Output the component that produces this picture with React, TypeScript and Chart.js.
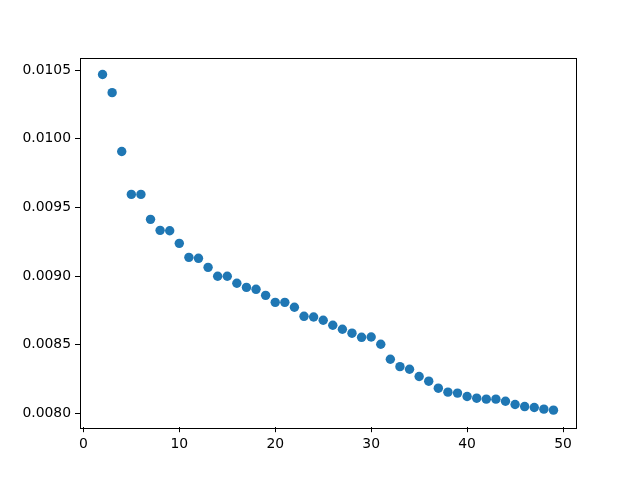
import React, { useEffect, useRef } from "react";
import { Chart, registerables } from "chart.js";

Chart.register(...registerables);

const xValues: number[] = [
  2, 3, 4, 5, 6, 7, 8, 9, 10, 11, 12, 13, 14, 15, 16, 17, 18, 19, 20, 21, 22, 23, 24, 25,
  26, 27, 28, 29, 30, 31, 32, 33, 34, 35, 36, 37, 38, 39, 40, 41, 42, 43, 44, 45, 46, 47, 48, 49,
];
const yValues: number[] = [
  0.010469, 0.010337, 0.009908, 0.009595, 0.009595, 0.009413, 0.009333, 0.009330, 0.009238,
  0.009136, 0.009129, 0.009063, 0.008998, 0.008998, 0.008947, 0.008917, 0.008903, 0.008859,
  0.008808, 0.008808, 0.008772, 0.008706, 0.008701, 0.008677, 0.008641, 0.008612, 0.008583,
  0.008553, 0.008555, 0.008502, 0.008393, 0.008339, 0.008320, 0.008267, 0.008233, 0.008182,
  0.008153, 0.008146, 0.008121, 0.008109, 0.008102, 0.008102, 0.008087, 0.008063, 0.008048,
  0.008041, 0.008029, 0.008022,
];
const xTicks: number[] = [0, 10, 20, 30, 40, 50];
const yTicks: number[] = [0.008, 0.0085, 0.009, 0.0095, 0.01, 0.0105];

const FONT = { family: "'DejaVu Sans', sans-serif", size: 13.9 };

const boxPlugin = {
  id: "box",
  afterDraw(chart: any) {
    const { ctx, chartArea } = chart;
    ctx.save();
    ctx.strokeStyle = "#000";
    ctx.lineWidth = 1;
    ctx.strokeRect(
      Math.round(chartArea.left) + 0.5,
      Math.round(chartArea.top) + 0.5,
      Math.round(chartArea.right - chartArea.left),
      Math.round(chartArea.bottom - chartArea.top)
    );
    ctx.restore();
  },
};

export default function App() {
  const ref = useRef<HTMLCanvasElement | null>(null);
  useEffect(() => {
    if (!ref.current) return;
    const points = xValues.map((x, i) => ({ x, y: yValues[i] }));
    const chart = new Chart(ref.current, {
      type: "scatter",
      data: {
        datasets: [
          {
            data: points,
            backgroundColor: "#1f77b4",
            borderColor: "#1f77b4",
            borderWidth: 0,
            pointRadius: 4.7,
            pointHoverRadius: 4.7,
          },
        ],
      },
      options: {
        animation: false,
        responsive: false,
        devicePixelRatio: 1,
        layout: { padding: { left: 0, top: 57.6, right: 64, bottom: 0 } },
        plugins: { legend: { display: false }, tooltip: { enabled: false } },
        scales: {
          x: {
            type: "linear",
            min: -0.35,
            max: 51.35,
            afterBuildTicks: (s: any) => {
              s.ticks = xTicks.map((v) => ({ value: v }));
            },
            afterFit: (s: any) => {
              s.height = 52.8;
            },
            grid: {
              drawOnChartArea: false,
              drawTicks: true,
              tickLength: 5,
              color: "#000",
            },
            border: { display: false },
            ticks: {
              color: "#000",
              font: FONT,
              padding: 4,
              maxRotation: 0,
              callback: (v: any) => String(v),
            },
          },
          y: {
            type: "linear",
            min: 0.0078975,
            max: 0.0105925,
            afterBuildTicks: (s: any) => {
              s.ticks = yTicks.map((v) => ({ value: v }));
            },
            afterFit: (s: any) => {
              s.width = 80;
            },
            grid: {
              drawOnChartArea: false,
              drawTicks: true,
              tickLength: 5,
              color: "#000",
            },
            border: { display: false },
            ticks: {
              color: "#000",
              font: FONT,
              padding: 4,
              callback: (v: any) => Number(v).toFixed(4),
            },
          },
        },
      },
      plugins: [boxPlugin],
    });
    return () => chart.destroy();
  }, []);
  return (
    <div style={{ position: "absolute", left: 0, top: 0, width: 640, height: 480, background: "#fff" }}>
      <canvas ref={ref} width={640} height={480} style={{ width: 640, height: 480 }} />
    </div>
  );
}
